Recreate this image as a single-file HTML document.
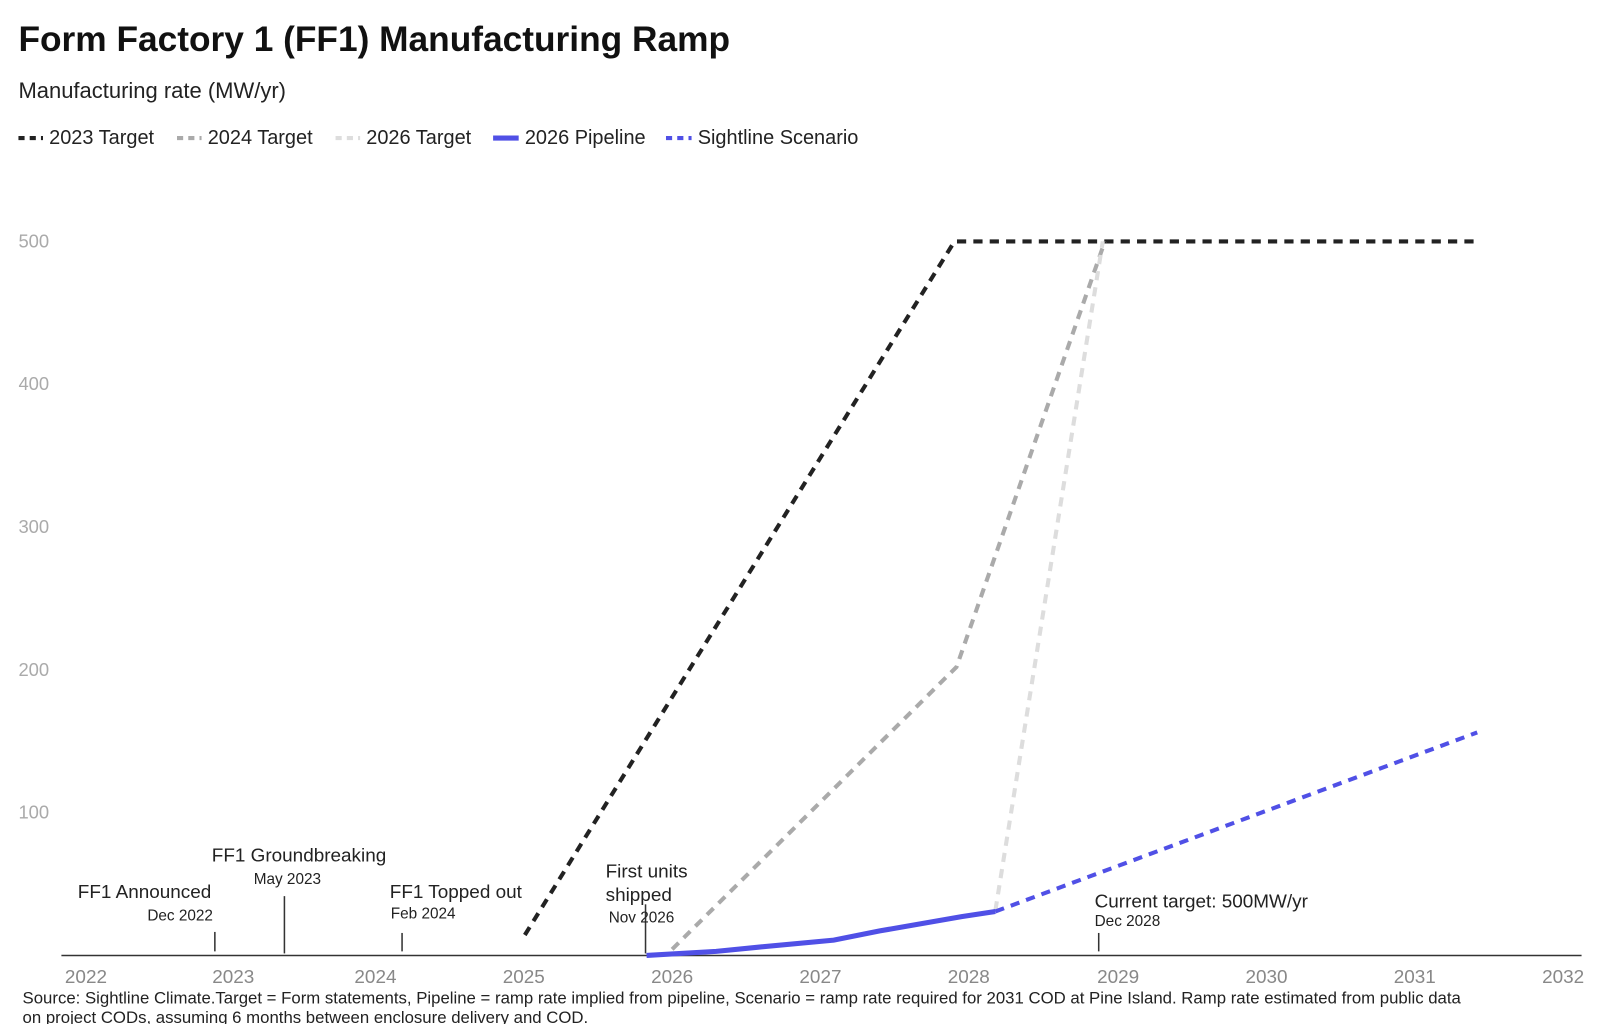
<!DOCTYPE html>
<html><head><meta charset="utf-8"><style>
html,body{margin:0;padding:0;background:#fff}
svg{display:block}
text{font-family:"Liberation Sans",sans-serif}
</style></head><body>
<svg width="1600" height="1024" viewBox="0 0 1564 1001" xmlns="http://www.w3.org/2000/svg">
<text x="18" y="50" font-size="34.5" font-weight="bold" fill="#111">Form Factory 1 (FF1) Manufacturing Ramp</text>
<text x="18" y="96" font-size="21.5" fill="#222">Manufacturing rate (MW/yr)</text>
<g font-size="19.5" fill="#222">
<line x1="18" y1="135" x2="42" y2="135" stroke="#222" stroke-width="4" stroke-dasharray="6,5"/><text x="48" y="141">2023 Target</text>
<line x1="173" y1="135" x2="197" y2="135" stroke="#aaa" stroke-width="4" stroke-dasharray="6,5"/><text x="203" y="141">2024 Target</text>
<line x1="328" y1="135" x2="352" y2="135" stroke="#ddd" stroke-width="4" stroke-dasharray="6,5"/><text x="358" y="141">2026 Target</text>
<line x1="482" y1="135" x2="507" y2="135" stroke="#5050e6" stroke-width="5"/><text x="513" y="141">2026 Pipeline</text>
<line x1="651" y1="135" x2="676" y2="135" stroke="#5050e6" stroke-width="4" stroke-dasharray="6,5"/><text x="682" y="141">Sightline Scenario</text>
</g>
<g font-size="18" fill="#aaa">
<text x="18" y="242">500</text><text x="18" y="381">400</text><text x="18" y="521">300</text><text x="18" y="661">200</text><text x="18" y="800">100</text>
</g>
<line x1="60" y1="934" x2="1546" y2="934" stroke="#333" stroke-width="1.5"/>
<g font-size="18.5" fill="#888" text-anchor="middle">
<text x="84" y="961">2022</text><text x="228" y="961">2023</text><text x="367" y="961">2024</text><text x="512" y="961">2025</text><text x="657" y="961">2026</text><text x="802" y="961">2027</text><text x="947" y="961">2028</text><text x="1093" y="961">2029</text><text x="1238" y="961">2030</text><text x="1383" y="961">2031</text><text x="1528" y="961">2032</text>
</g>
<polyline points="513,914 933,236 1444,236" fill="none" stroke="#222" stroke-width="4" stroke-dasharray="9,7"/>
<polyline points="657,928 935,652 1080,236" fill="none" stroke="#aaa" stroke-width="4" stroke-dasharray="9,7"/>
<polyline points="973,890 1078,236" fill="none" stroke="#ddd" stroke-width="4" stroke-dasharray="9,7"/>
<polyline points="973,891 1444,716" fill="none" stroke="#5050e6" stroke-width="4" stroke-dasharray="9,7"/>
<polyline points="632,934 700,930 740,926 815,919 860,910 940,896 973,891" fill="none" stroke="#5050e6" stroke-width="5"/>
<g stroke="#333" stroke-width="1.5">
<line x1="210" y1="911" x2="210" y2="930"/><line x1="278" y1="876" x2="278" y2="932"/><line x1="393" y1="912" x2="393" y2="930"/><line x1="631" y1="884" x2="631" y2="932"/><line x1="1074" y1="912" x2="1074" y2="930"/>
</g>
<g fill="#222">
<text x="76" y="878" font-size="18.5">FF1 Announced</text><text x="144" y="900" font-size="15">Dec 2022</text>
<text x="207" y="842" font-size="18.5">FF1 Groundbreaking</text><text x="248" y="864" font-size="15">May 2023</text>
<text x="381" y="878" font-size="18.5">FF1 Topped out</text><text x="382" y="898" font-size="15">Feb 2024</text>
<text x="592" y="858" font-size="18.5">First units</text><text x="592" y="881" font-size="18.5">shipped</text><text x="595" y="902" font-size="15">Nov 2026</text>
<text x="1070" y="887" font-size="18.5">Current target: 500MW/yr</text><text x="1070" y="905" font-size="15">Dec 2028</text>
</g>
<g font-size="16.4" fill="#222">
<text x="22" y="981">Source: Sightline Climate.Target = Form statements, Pipeline = ramp rate implied from pipeline, Scenario = ramp rate required for 2031 COD at Pine Island. Ramp rate estimated from public data</text>
<text x="22" y="1000">on project CODs, assuming 6 months between enclosure delivery and COD.</text>
</g>
</svg>
</body></html>
